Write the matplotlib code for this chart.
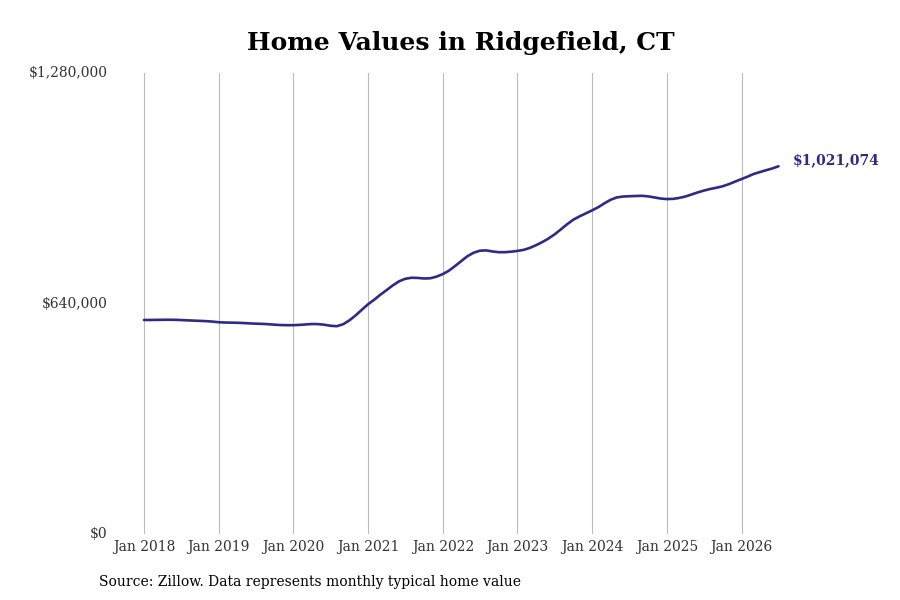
import matplotlib
matplotlib.use("Agg")
import matplotlib.pyplot as plt
import numpy as np
import pandas as pd

plt.rcParams['font.family'] = ['DejaVu Serif']

start_month = "2018-01-01"
values = [
    # 2018
    594200, 594300, 594500, 594800, 594900, 594700, 594000, 593200, 592500, 591800, 591000, 589800,
    # 2019
    588000, 587200, 586800, 586500, 585800, 584800, 584000, 583500, 582500, 581200, 580200, 579800,
    # 2020
    579800, 580600, 581800, 583000, 582800, 581000, 578200, 577000, 582500, 593000, 607000, 622500,
    # 2021
    638000, 651000, 664000, 677000, 690000, 701500, 708500, 711500, 711000, 709500, 710000, 714500,
    # 2022
    721500, 731500, 743500, 757500, 771000, 781000, 786500, 787500, 784500, 782500, 782500, 783800,
    # 2023
    786000, 789000, 794000, 801500, 810000, 820000, 831500, 845500, 860000, 872500, 882000, 890000,
    # 2024
    898500, 907500, 918000, 928000, 934500, 937000, 937800, 938500, 939000, 937500, 934500, 931500,
    # 2025
    930000, 930500, 933000, 937000, 942500, 948500, 953500, 958000, 961500, 965500, 971500, 978500,
    # 2026
    985500, 992500, 999500, 1005000, 1010000, 1015000, 1021074,
]
tick_years = list(range(2018, 2027))
tick_labels = [f"Jan {y}" for y in tick_years]
y_ticks = [0, 640000, 1280000]
y_tick_labels = ["$0", "$640,000", "$1,280,000"]
title = "Home Values in Ridgefield, CT"
source = "Source: Zillow. Data represents monthly typical home value"

dates = pd.date_range(start_month, periods=len(values), freq="MS")
line_color = "#2e2b86"

fig = plt.figure(figsize=(9, 6), dpi=100)
ax = fig.add_axes([112/900, 1-534/600, (860-112)/900, (534-73)/600])
ax.plot(dates, values, color=line_color, linewidth=1.9, solid_capstyle='round')

t0 = pd.Timestamp("2018-01-01")
t1 = pd.Timestamp("2026-01-01")
ppd = (741.5-144) / (t1 - t0).days
left = t0 - pd.Timedelta(days=(144-112)/ppd)
right = t1 + pd.Timedelta(days=(860-741.5)/ppd)
ax.set_xlim(left, right)
ax.set_ylim(0, 1280000)

ax.set_xticks([pd.Timestamp(f"{y}-01-01") for y in tick_years])
ax.set_xticklabels(tick_labels, fontsize=10, color="#333333")
ax.set_yticks(y_ticks)
ax.set_yticklabels(y_tick_labels, fontsize=10, color="#333333")
ax.tick_params(axis='both', length=0)
ax.tick_params(axis='x', pad=4)
ax.tick_params(axis='y', pad=3)
for lab in ax.get_yticklabels():
    lab.set_verticalalignment('center')
ax.grid(axis='x', color="#bbbbbb", linewidth=0.8)
ax.grid(axis='y', visible=False)
for s in ax.spines.values():
    s.set_visible(False)

ax.annotate(f"${values[-1]:,}", xy=(dates[-1], values[-1]), xytext=(10, 4),
            textcoords='offset points', fontsize=10, fontweight='bold',
            color=line_color, va='center', ha='left')

fig.text(461/900, 1-43/600, title, fontsize=18, fontweight='bold', ha='center', va='center', color='black')
fig.text(99/900, 1-582/600, source, fontsize=10, ha='left', va='center', color='black')

fig.savefig("out.png", dpi=100)
